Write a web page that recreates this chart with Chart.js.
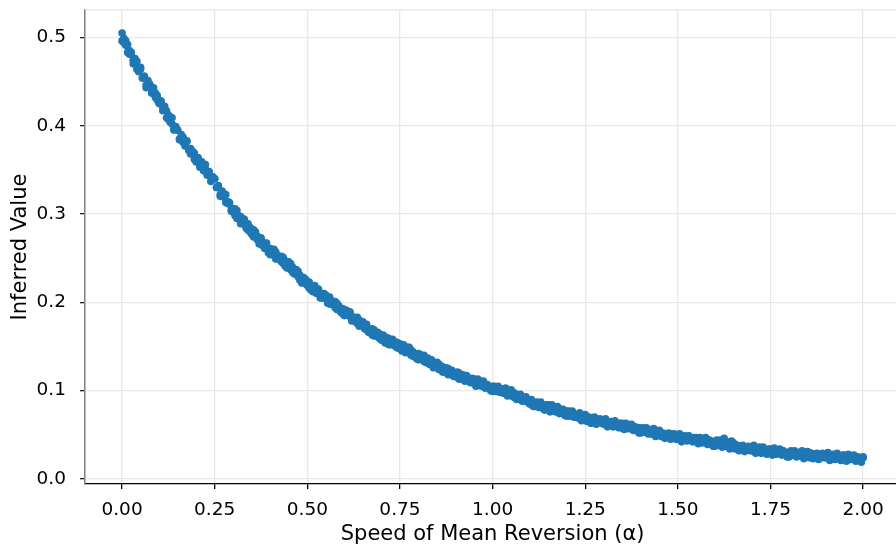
<!DOCTYPE html>
<html>
<head>
<meta charset="utf-8">
<script src="https://cdn.jsdelivr.net/npm/chart.js@4"></script>
<style>
  html, body { margin: 0; padding: 0; background: #fff; width: 896px; height: 547px; overflow: hidden; }
  /* the plot frame runs a little past the right edge of the picture */
  #wrap { width: 904px; height: 547px; }
</style>
</head>
<body>
<div id="wrap"><canvas id="chart"></canvas></div>
<script>
const alpha = [
  0.000,0.005,0.010,0.015,0.020,0.025,0.030,0.035,0.040,0.045,
  0.050,0.055,0.060,0.065,0.070,0.075,0.080,0.085,0.090,0.095,
  0.100,0.105,0.110,0.115,0.120,0.125,0.130,0.135,0.140,0.145,
  0.150,0.155,0.160,0.165,0.170,0.175,0.180,0.185,0.190,0.195,
  0.200,0.205,0.210,0.215,0.220,0.225,0.230,0.235,0.240,0.245,
  0.250,0.255,0.260,0.265,0.270,0.275,0.280,0.285,0.290,0.295,
  0.300,0.305,0.310,0.315,0.320,0.325,0.330,0.335,0.340,0.345,
  0.350,0.355,0.360,0.365,0.370,0.375,0.380,0.385,0.390,0.395,
  0.400,0.405,0.410,0.415,0.420,0.425,0.430,0.435,0.440,0.445,
  0.450,0.455,0.460,0.465,0.470,0.475,0.480,0.485,0.490,0.495,
  0.500,0.505,0.510,0.515,0.520,0.525,0.530,0.535,0.540,0.545,
  0.550,0.555,0.560,0.565,0.570,0.575,0.580,0.585,0.590,0.595,
  0.600,0.605,0.610,0.615,0.620,0.625,0.630,0.635,0.640,0.645,
  0.650,0.655,0.660,0.665,0.670,0.675,0.680,0.685,0.690,0.695,
  0.700,0.705,0.710,0.715,0.720,0.725,0.730,0.735,0.740,0.745,
  0.750,0.755,0.760,0.765,0.770,0.775,0.780,0.785,0.790,0.795,
  0.800,0.805,0.810,0.815,0.820,0.825,0.830,0.835,0.840,0.845,
  0.850,0.855,0.860,0.865,0.870,0.875,0.880,0.885,0.890,0.895,
  0.900,0.905,0.910,0.915,0.920,0.925,0.930,0.935,0.940,0.945,
  0.950,0.955,0.960,0.965,0.970,0.975,0.980,0.985,0.990,0.995,
  1.000,1.005,1.010,1.015,1.020,1.025,1.030,1.035,1.040,1.045,
  1.050,1.055,1.060,1.065,1.070,1.075,1.080,1.085,1.090,1.095,
  1.100,1.105,1.110,1.115,1.120,1.125,1.130,1.135,1.140,1.145,
  1.150,1.155,1.160,1.165,1.170,1.175,1.180,1.185,1.190,1.195,
  1.200,1.205,1.210,1.215,1.220,1.225,1.230,1.235,1.240,1.245,
  1.250,1.255,1.260,1.265,1.270,1.275,1.280,1.285,1.290,1.295,
  1.300,1.305,1.310,1.315,1.320,1.325,1.330,1.335,1.340,1.345,
  1.350,1.355,1.360,1.365,1.370,1.375,1.380,1.385,1.390,1.395,
  1.400,1.405,1.410,1.415,1.420,1.425,1.430,1.435,1.440,1.445,
  1.450,1.455,1.460,1.465,1.470,1.475,1.480,1.485,1.490,1.495,
  1.500,1.505,1.510,1.515,1.520,1.525,1.530,1.535,1.540,1.545,
  1.550,1.555,1.560,1.565,1.570,1.575,1.580,1.585,1.590,1.595,
  1.600,1.605,1.610,1.615,1.620,1.625,1.630,1.635,1.640,1.645,
  1.650,1.655,1.660,1.665,1.670,1.675,1.680,1.685,1.690,1.695,
  1.700,1.705,1.710,1.715,1.720,1.725,1.730,1.735,1.740,1.745,
  1.750,1.755,1.760,1.765,1.770,1.775,1.780,1.785,1.790,1.795,
  1.800,1.805,1.810,1.815,1.820,1.825,1.830,1.835,1.840,1.845,
  1.850,1.855,1.860,1.865,1.870,1.875,1.880,1.885,1.890,1.895,
  1.900,1.905,1.910,1.915,1.920,1.925,1.930,1.935,1.940,1.945,
  1.950,1.955,1.960,1.965,1.970,1.975,1.980,1.985,1.990,1.995,2.000
];

// first draw of inferred values at each alpha
const inferredA = [
  0.505,0.494,0.496,0.483,0.485,0.483,0.470,0.474,0.473,0.461,
  0.466,0.454,0.456,0.443,0.451,0.444,0.437,0.443,0.432,0.434,
  0.425,0.428,0.420,0.422,0.409,0.412,0.404,0.409,0.395,0.397,
  0.395,0.384,0.387,0.387,0.377,0.383,0.374,0.368,0.371,0.369,
  0.361,0.364,0.353,0.357,0.351,0.356,0.344,0.345,0.337,0.342,
  0.340,0.330,0.332,0.320,0.326,0.319,0.322,0.312,0.311,0.303,
  0.306,0.298,0.304,0.296,0.289,0.295,0.291,0.284,0.289,0.280,
  0.277,0.282,0.275,0.275,0.266,0.272,0.267,0.261,0.267,0.258,
  0.261,0.254,0.260,0.249,0.253,0.249,0.252,0.244,0.247,0.239,
  0.240,0.244,0.234,0.237,0.237,0.229,0.231,0.222,0.226,0.226,
  0.223,0.216,0.219,0.212,0.219,0.212,0.214,0.205,0.210,0.205,
  0.208,0.201,0.198,0.202,0.200,0.194,0.199,0.193,0.189,0.193,
  0.187,0.191,0.185,0.189,0.179,0.183,0.182,0.176,0.180,0.175,
  0.176,0.170,0.175,0.168,0.169,0.163,0.169,0.164,0.161,0.164,
  0.157,0.161,0.157,0.160,0.152,0.156,0.156,0.151,0.155,0.148,
  0.152,0.147,0.149,0.143,0.149,0.144,0.146,0.139,0.142,0.138,
  0.142,0.137,0.139,0.133,0.136,0.137,0.130,0.132,0.127,0.131,
  0.126,0.130,0.125,0.127,0.121,0.124,0.125,0.119,0.121,0.116,
  0.120,0.115,0.120,0.115,0.116,0.111,0.115,0.112,0.110,0.113,
  0.108,0.111,0.108,0.111,0.105,0.108,0.103,0.107,0.104,0.102,
  0.105,0.101,0.099,0.103,0.101,0.102,0.097,0.100,0.095,0.099,
  0.095,0.098,0.092,0.095,0.095,0.091,0.093,0.088,0.092,0.089,
  0.089,0.084,0.087,0.082,0.086,0.083,0.085,0.080,0.082,0.079,
  0.082,0.078,0.082,0.078,0.076,0.080,0.077,0.075,0.079,0.075,
  0.077,0.073,0.071,0.075,0.073,0.070,0.073,0.070,0.071,0.068,
  0.068,0.070,0.066,0.068,0.064,0.069,0.066,0.064,0.067,0.064,
  0.066,0.063,0.064,0.061,0.064,0.060,0.063,0.060,0.063,0.058,
  0.061,0.058,0.061,0.058,0.058,0.060,0.056,0.058,0.056,0.058,
  0.055,0.057,0.053,0.055,0.053,0.056,0.051,0.054,0.051,0.052,
  0.053,0.050,0.051,0.048,0.050,0.048,0.051,0.046,0.049,0.046,
  0.046,0.048,0.048,0.044,0.046,0.047,0.044,0.047,0.043,0.045,
  0.045,0.043,0.045,0.041,0.044,0.043,0.044,0.041,0.040,0.042,
  0.040,0.042,0.038,0.042,0.039,0.046,0.041,0.037,0.039,0.043,
  0.038,0.036,0.038,0.034,0.037,0.034,0.036,0.033,0.036,0.034,
  0.033,0.035,0.033,0.031,0.034,0.034,0.031,0.030,0.032,0.030,
  0.032,0.030,0.033,0.029,0.030,0.031,0.028,0.031,0.028,0.030,
  0.028,0.030,0.027,0.029,0.028,0.030,0.027,0.026,0.028,0.027,
  0.028,0.026,0.029,0.025,0.027,0.027,0.025,0.028,0.025,0.026,
  0.025,0.027,0.027,0.024,0.025,0.023,0.026,0.026,0.023,0.024,
  0.025,0.023,0.026,0.024,0.023,0.024,0.022,0.024,0.023,0.022,0.024
];

// second draw at the same alpha grid
const inferredB = [
  0.496,0.499,0.491,0.492,0.481,0.481,0.474,0.476,0.464,0.466,
  0.464,0.454,0.456,0.446,0.448,0.447,0.437,0.438,0.437,0.429,
  0.426,0.428,0.417,0.418,0.417,0.407,0.410,0.402,0.396,0.399,
  0.395,0.385,0.390,0.381,0.379,0.382,0.372,0.374,0.370,0.362,
  0.359,0.363,0.357,0.359,0.349,0.351,0.345,0.348,0.337,0.341,
  0.340,0.330,0.332,0.322,0.324,0.323,0.313,0.314,0.313,0.305,
  0.302,0.306,0.295,0.298,0.297,0.289,0.294,0.286,0.282,0.285,
  0.283,0.274,0.280,0.271,0.270,0.273,0.264,0.267,0.263,0.256,
  0.254,0.259,0.254,0.257,0.249,0.251,0.246,0.251,0.241,0.246,
  0.246,0.237,0.240,0.232,0.235,0.235,0.225,0.227,0.228,0.221,
  0.219,0.223,0.214,0.217,0.218,0.210,0.215,0.209,0.205,0.210,
  0.208,0.199,0.206,0.198,0.198,0.201,0.192,0.196,0.193,0.187,
  0.185,0.191,0.185,0.189,0.180,0.183,0.178,0.183,0.173,0.178,
  0.178,0.170,0.173,0.166,0.169,0.170,0.162,0.164,0.166,0.159,
  0.158,0.163,0.154,0.158,0.159,0.152,0.158,0.152,0.149,0.154,
  0.153,0.145,0.152,0.145,0.145,0.149,0.140,0.144,0.142,0.136,
  0.135,0.141,0.136,0.140,0.132,0.135,0.130,0.135,0.126,0.131,
  0.132,0.124,0.128,0.121,0.125,0.126,0.118,0.121,0.123,0.117,
  0.116,0.121,0.113,0.117,0.118,0.111,0.117,0.111,0.109,0.114,
  0.113,0.105,0.113,0.106,0.106,0.111,0.103,0.107,0.105,0.100,
  0.099,0.105,0.101,0.105,0.098,0.101,0.097,0.103,0.094,0.100,
  0.101,0.093,0.097,0.090,0.094,0.096,0.088,0.091,0.093,0.087,
  0.085,0.090,0.082,0.086,0.087,0.081,0.087,0.081,0.078,0.084,
  0.084,0.076,0.084,0.077,0.078,0.082,0.074,0.079,0.077,0.072,
  0.071,0.077,0.073,0.077,0.070,0.073,0.069,0.075,0.066,0.072,
  0.073,0.065,0.070,0.063,0.068,0.070,0.062,0.066,0.068,0.063,
  0.062,0.068,0.059,0.064,0.065,0.059,0.066,0.060,0.058,0.063,
  0.063,0.056,0.063,0.057,0.057,0.062,0.055,0.059,0.058,0.052,
  0.052,0.058,0.054,0.058,0.051,0.055,0.051,0.057,0.048,0.054,
  0.055,0.048,0.052,0.046,0.050,0.052,0.045,0.048,0.051,0.045,
  0.045,0.051,0.042,0.047,0.049,0.043,0.049,0.044,0.042,0.047,
  0.047,0.040,0.047,0.041,0.042,0.047,0.039,0.044,0.043,0.037,
  0.037,0.044,0.039,0.044,0.036,0.040,0.037,0.042,0.034,0.039,
  0.041,0.034,0.038,0.032,0.037,0.038,0.031,0.035,0.037,0.032,
  0.032,0.038,0.029,0.034,0.036,0.029,0.036,0.031,0.028,0.034,
  0.034,0.027,0.035,0.028,0.029,0.034,0.027,0.032,0.030,0.025,
  0.025,0.032,0.028,0.032,0.025,0.029,0.026,0.032,0.023,0.029,
  0.031,0.024,0.029,0.023,0.028,0.029,0.022,0.026,0.029,0.024,
  0.024,0.030,0.021,0.026,0.028,0.022,0.029,0.023,0.021,0.027,
  0.027,0.020,0.028,0.022,0.023,0.027,0.020,0.025,0.024,0.019,0.025
];

const xTicks = [0, 0.25, 0.5, 0.75, 1, 1.25, 1.5, 1.75, 2];
const yTicks = [0, 0.1, 0.2, 0.3, 0.4, 0.5];

const FONT = "'DejaVu Sans', sans-serif";
const BLUE = '#1f77b4';

// light frame line along the top of the plot area
const topLine = {
  id: 'topLine',
  beforeDatasetsDraw(chart) {
    const { ctx, chartArea } = chart;
    ctx.save();
    ctx.strokeStyle = '#e8e8e8';
    ctx.lineWidth = 1.3;
    ctx.beginPath();
    ctx.moveTo(chartArea.left, chartArea.top);
    ctx.lineTo(chartArea.right, chartArea.top);
    ctx.stroke();
    ctx.restore();
  }
};

const toPoints = ys => alpha.map((a, i) => ({ x: a, y: ys[i] }));

const pointStyle = {
  backgroundColor: BLUE,
  borderWidth: 0,
  pointRadius: 3.8,
  pointHoverRadius: 3.8
};

new Chart(document.getElementById('chart'), {
  type: 'scatter',
  data: {
    datasets: [
      { data: toPoints(inferredA), ...pointStyle },
      { data: toPoints(inferredB), ...pointStyle }
    ]
  },
  options: {
    responsive: true,
    maintainAspectRatio: false,
    animation: false,
    layout: { padding: { top: 10, right: 0, left: 0, bottom: 0 } },
    plugins: {
      legend: { display: false },
      tooltip: { enabled: false }
    },
    scales: {
      x: {
        type: 'linear',
        min: -0.1,
        max: 2.1,
        afterBuildTicks: s => { s.ticks = xTicks.map(v => ({ value: v })); },
        afterFit: s => { s.height = 63; s.paddingLeft = 0; s.paddingRight = 0; },
        grid: { color: '#e8e8e8', lineWidth: 1.3, tickColor: '#000', tickLength: 5 },
        border: { color: '#000', width: 1.3 },
        ticks: {
          color: '#000',
          font: { family: FONT, size: 18.5 },
          padding: 10,
          maxRotation: 0,
          callback: v => v.toFixed(2)
        },
        title: {
          display: true,
          text: 'Speed of Mean Reversion (α)',
          color: '#000',
          font: { family: FONT, size: 21 },
          padding: { top: 0, bottom: 0 }
        }
      },
      y: {
        type: 'linear',
        min: -0.0057,
        max: 0.531,
        afterBuildTicks: s => { s.ticks = yTicks.map(v => ({ value: v })); },
        afterFit: s => { s.width = 85; s.paddingTop = 0; s.paddingBottom = 0; },
        grid: { color: '#e8e8e8', lineWidth: 1.3, tickColor: '#222', tickLength: 5 },
        border: { color: '#808080', width: 1.5 },
        ticks: {
          color: '#000',
          font: { family: FONT, size: 18.5 },
          padding: 14,
          callback: v => v.toFixed(1)
        },
        title: {
          display: true,
          text: 'Inferred Value',
          color: '#000',
          font: { family: FONT, size: 21 },
          padding: { top: 8, bottom: 0 }
        }
      }
    }
  },
  plugins: [topLine]
});
</script>
</body>
</html>
